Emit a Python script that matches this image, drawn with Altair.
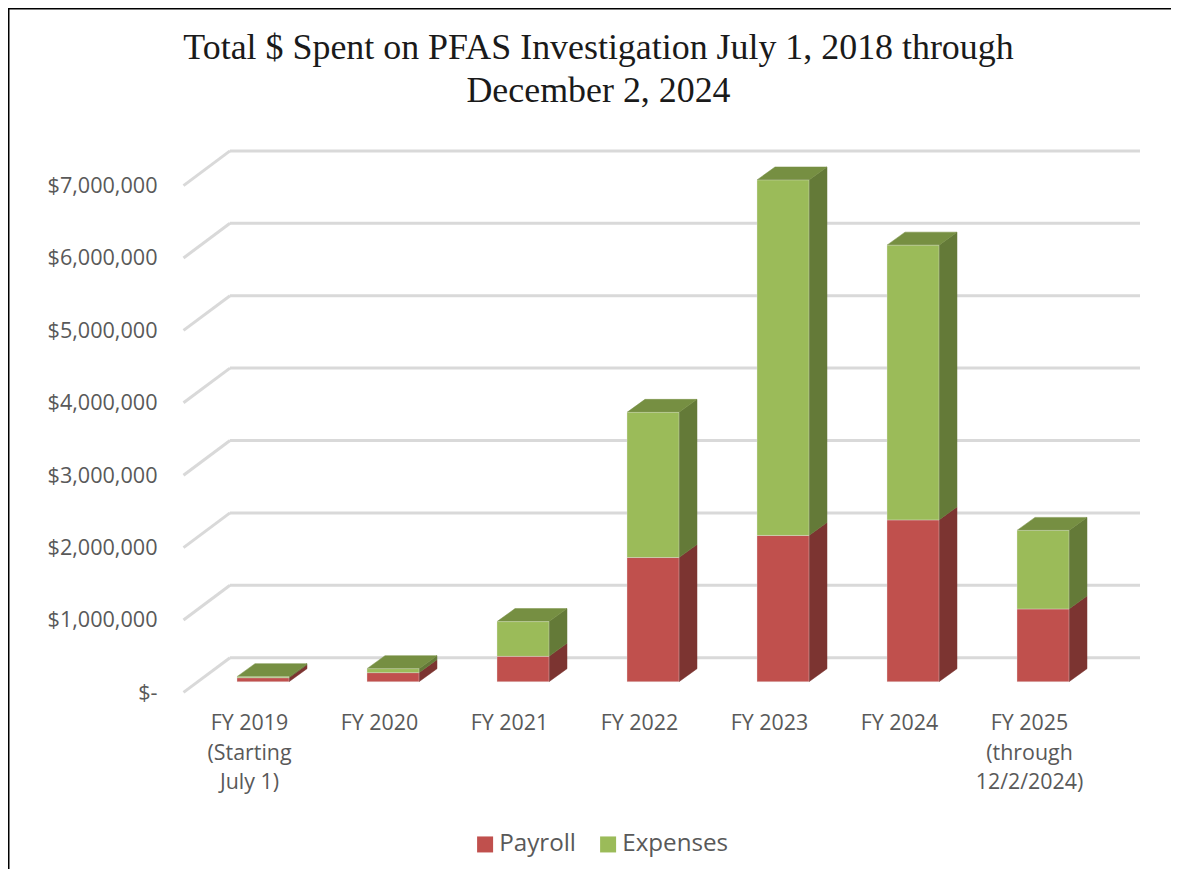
import altair as alt
import pandas as pd

categories = ["FY 2019\n(Starting\nJuly 1)", "FY 2020", "FY 2021", "FY 2022", "FY 2023", "FY 2024",
              "FY 2025\n(through\n12/2/2024)"]
payroll = [55000, 125000, 350000, 1715000, 2020000, 2235000, 1005000]
expenses = [15000, 55000, 480000, 2005000, 4910000, 3795000, 1085000]
series = ["Payroll", "Expenses"]
y_ticks = [0, 1000000, 2000000, 3000000, 4000000, 5000000, 6000000, 7000000]

W, H = 1163, 861
PX_PER_X = 130.0
PX_PER_DOLLAR = 72.4 / 1e6
ZERO_X, ZERO_Y = 255.0, 673.7
x_domain = [-ZERO_X / PX_PER_X, (W - ZERO_X) / PX_PER_X]
y_domain = [-(H - ZERO_Y) / PX_PER_DOLLAR, ZERO_Y / PX_PER_DOLLAR]
HALF = 26 / PX_PER_X
DX = 18 / PX_PER_X
DY = 13 / PX_PER_DOLLAR

GRID_COLOR = "#D9D9D9"
TEXT_COLOR = "#595959"
FONT = "Open Sans"
label_array = "[" + ",".join("'" + c.replace("\n", "|") + "'" for c in categories) + "]"

x_scale = alt.Scale(domain=x_domain, nice=False, zero=False)
y_scale = alt.Scale(domain=y_domain, nice=False, zero=False)
x_axis = alt.Axis(
    values=list(range(len(categories))), title=None, grid=False, domain=False, ticks=False,
    offset=-(H - 704.5), labelOffset=-14, labelPadding=0, labelFontSize=21.4, labelFont=FONT,
    labelColor=TEXT_COLOR, labelLineHeight=29.5, labelBaseline="top", labelOverlap=False,
    labelFlush=False, labelExpr="split(" + label_array + "[datum.value], '|')")
y_axis = alt.Axis(
    values=y_ticks, title=None, grid=False, domain=False, ticks=False,
    offset=-149, labelOffset=11.5, labelPadding=0, labelFontSize=21.6, labelFont=FONT,
    labelColor=TEXT_COLOR, labelOverlap=False, labelFlush=False,
    labelExpr="datum.value == 0 ? '$-' : format(datum.value, '$,')")

front, red_side, green_side, top = [], [], [], []
for i, (p, e) in enumerate(zip(payroll, expenses)):
    t = p + e
    x0, x1 = i - HALF, i + HALF
    front.append({"x": x0, "x2": x1, "y": 0, "y2": p, "series": "Payroll"})
    front.append({"x": x0, "x2": x1, "y": p, "y2": t, "series": "Expenses"})
    red_side += [{"x": x1, "y": 0, "y2": p, "k": i},
                 {"x": x1 + DX, "y": DY, "y2": p + DY, "k": i}]
    green_side += [{"x": x1, "y": p, "y2": t, "k": i},
                   {"x": x1 + DX, "y": p + DY, "y2": t + DY, "k": i}]
    top += [{"x": x0, "y": t, "y2": t, "k": i},
            {"x": x0 + DX, "y": t, "y2": t + DY, "k": i},
            {"x": x1, "y": t, "y2": t + DY, "k": i},
            {"x": x1 + DX, "y": t + DY, "y2": t + DY, "k": i}]

# back-wall gridlines and their diagonals on the side wall
GRID_L, GRID_R = (230 - 8 - ZERO_X) / PX_PER_X, (1140 - 8 - ZERO_X) / PX_PER_X
DIAG_L = (183.5 - 8 - ZERO_X) / PX_PER_X
G_OFF, D_OFF = 24 / PX_PER_DOLLAR, -10.7 / PX_PER_DOLLAR
grid = pd.DataFrame([{"x": GRID_L, "x2": GRID_R, "y": v + G_OFF, "y2": v + G_OFF} for v in y_ticks]
                    + [{"x": DIAG_L, "x2": GRID_L, "y": v + D_OFF, "y2": v + G_OFF} for v in y_ticks])


def enc(chart):
    return chart.encode(
        x=alt.X("x:Q", scale=x_scale, axis=x_axis),
        y=alt.Y("y:Q", scale=y_scale, axis=y_axis),
        y2="y2:Q",
    )


grid_layer = enc(alt.Chart(grid).mark_rule(color=GRID_COLOR, strokeWidth=3)).encode(x2="x2:Q")


def face(rows, color):
    return enc(alt.Chart(pd.DataFrame(rows)).mark_area(color=color, interpolate="linear", stroke=color,
                                                       strokeWidth=0.5)).encode(detail="k:N")


bars = enc(alt.Chart(pd.DataFrame(front)).mark_bar(stroke="#E6E6E6", strokeWidth=0.6, strokeOpacity=0.6)).encode(
    x2="x2:Q",
    color=alt.Color("series:N", scale=alt.Scale(domain=series, range=["#C0504D", "#9BBB59"]),
                    legend=alt.Legend(orient="none", legendX=465, legendY=824, direction="horizontal",
                                      columns=2, title=None, symbolType="square", symbolSize=256,
                                      symbolStrokeWidth=0, labelFontSize=24.2, labelFont=FONT,
                                      labelColor=TEXT_COLOR, columnPadding=20, labelOffset=2, padding=0)),
)

frame = pd.DataFrame({"x": [x_domain[0], x_domain[0]], "x2": [x_domain[1], x_domain[0]],
                      "y": [y_domain[1], y_domain[1]], "y2": [y_domain[1], y_domain[0]]})
frame_layer = enc(alt.Chart(frame).mark_rule(color="#000000", strokeWidth=3)).encode(x2="x2:Q")

chart = alt.layer(
    grid_layer,
    face(red_side, "#7C3431"),
    face(green_side, "#647A38"),
    face(top, "#768F42"),
    bars,
    frame_layer,
).properties(
    width=W,
    height=H,
    padding=0,
    autosize=alt.AutoSizeParams(type="none"),
    title=alt.TitleParams(
        text=["Total $ Spent on PFAS Investigation July 1, 2018 through", "December 2, 2024"],
        font="Liberation Serif", fontSize=35.9, fontWeight="normal", color="#1A1A1A",
        lineHeight=43, anchor="middle", offset=-103, dx=9),
).configure_view(stroke=None)

chart.save("out.html", embed_options={"renderer": "svg", "actions": False})
